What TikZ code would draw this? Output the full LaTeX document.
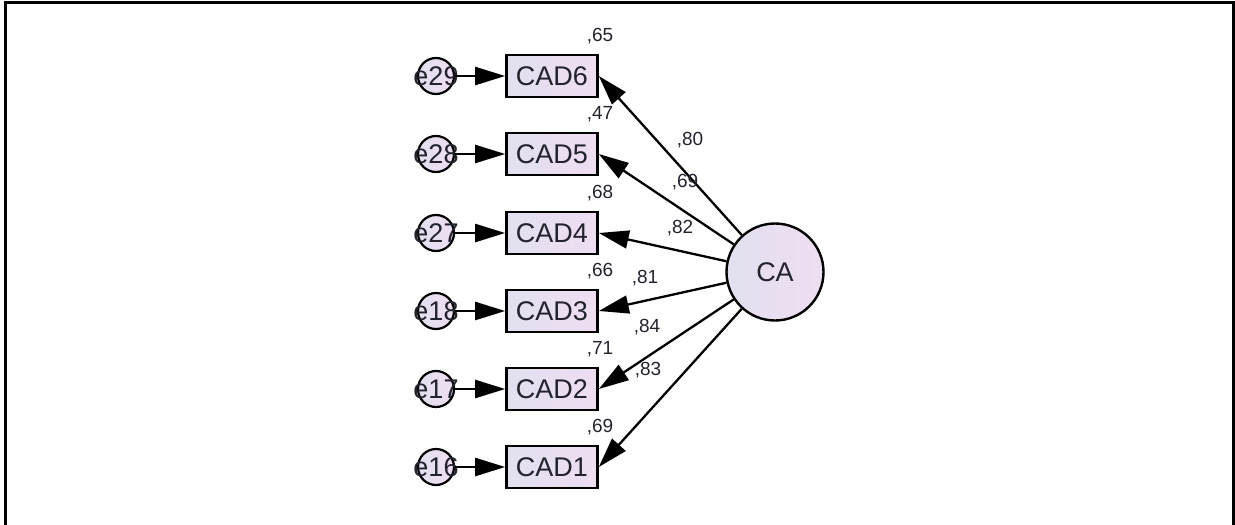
\documentclass[tikz,border=0pt]{standalone}
\usepackage{fontspec}
\setmainfont{Liberation Sans}
\usetikzlibrary{arrows.meta}
\definecolor{lavL}{RGB}{226,224,240}
\definecolor{lavR}{RGB}{238,222,242}
\definecolor{txt}{RGB}{35,35,45}
\tikzset{
  obs/.style={draw=black, line width=2.6pt, left color=lavL, right color=lavR,
    minimum width=91pt, minimum height=42pt, inner sep=0pt,
    font=\fontsize{27}{29}\selectfont, text=txt},
  err/.style={circle, draw=black, line width=2.2pt, left color=lavL, right color=lavR,
    minimum size=36pt, inner sep=0pt},
  elabel/.style={font=\fontsize{27}{29}\selectfont, text=txt, inner sep=0pt},
  lat/.style={circle, draw=black, line width=2.4pt, left color=lavL, right color=lavR,
    minimum size=97pt, inner sep=0pt, font=\fontsize{27}{29}\selectfont, text=txt},
  est/.style={font=\fontsize{19}{21}\selectfont, text=txt, inner sep=0pt},
  conn/.style={line width=2.3pt, -{Triangle[length=30pt,width=18pt]}},
}
\begin{document}
\begin{tikzpicture}[x=1pt,y=-1pt]
\useasboundingbox (0,0) rectangle (1235,525);
\draw[line width=3pt] (5,526) -- (5,2) -- (1233,2) -- (1233,526);

\node[lat] (CA) at (775,272) {CA};

\foreach \n/\e/\y/\v in {6/29/76/{,65}, 5/28/154/{,47}, 4/27/233/{,68}, 3/18/311/{,66}, 2/17/389/{,71}, 1/16/467/{,69}}{
  \node[obs] (CAD\n) at (552,\y) {CAD\n};
  \node[err, label={[elabel]center:e\e}] (e\e) at (436,\y) {};
  \node[est] (v\n) at (600,\y-40) {\v};
  \draw[conn] (e\e) -- (CAD\n);
  \draw[conn] (CA) -- (CAD\n.east);
}

\node[est] (l6) at (690,140) {,80};
\node[est] (l5) at (685,182) {,69};
\node[est] (l4) at (680,228) {,82};
\node[est] (l3) at (645,278) {,81};
\node[est] (l2) at (647,327) {,84};
\node[est] (l1) at (648,370) {,83};
\end{tikzpicture}
\end{document}
